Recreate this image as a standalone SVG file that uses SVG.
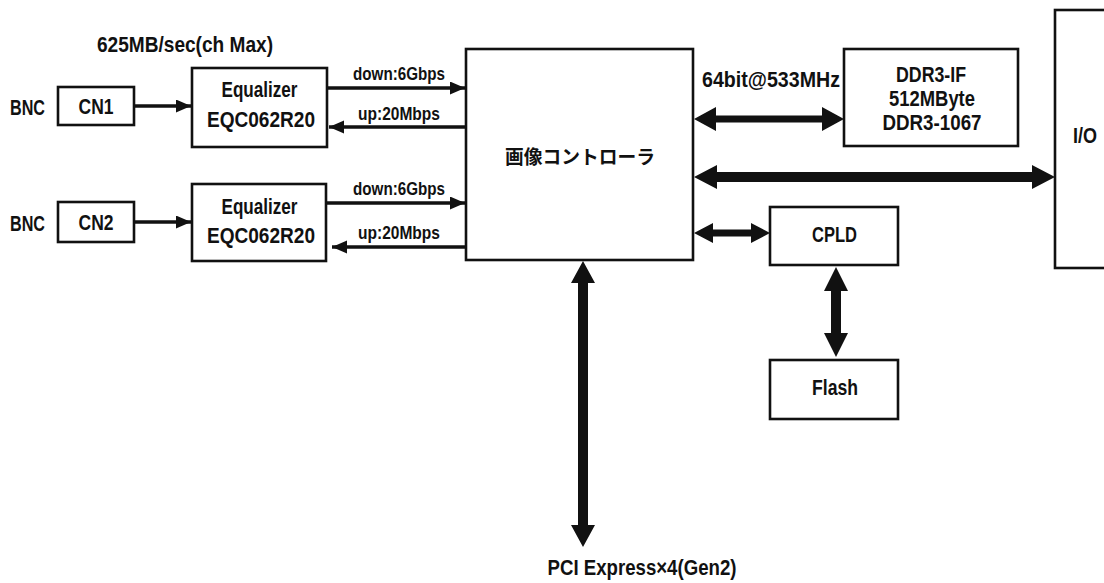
<svg xmlns="http://www.w3.org/2000/svg" width="1104" height="583" viewBox="0 0 1104 583">
<style>
.box{fill:#fff;stroke:#111;stroke-width:2.6}
.t{font-family:"Liberation Sans Narrow","Liberation Sans",Arial,sans-serif;font-weight:bold;fill:#111;text-anchor:middle}
.s19{font-size:22px}
.s16{font-size:18px}
.jp{font-family:"Liberation Sans","Noto Sans CJK JP",sans-serif;font-weight:bold;font-size:19px;fill:#111;text-anchor:middle}
.ln{stroke:#111;stroke-width:3.5;fill:none}
.fat{fill:#111;stroke:none}
</style>
<defs>
<marker id="ah" markerUnits="userSpaceOnUse" markerWidth="16" markerHeight="14" refX="15" refY="6.5" orient="auto">
<path d="M0,0 L15,6.5 L0,13 Z" fill="#111"/>
</marker>
</defs>
<rect width="1104" height="583" fill="#fff"/>
<text class="t s19" x="185" y="52" textLength="176" lengthAdjust="spacingAndGlyphs">625MB/sec(ch Max)</text>
<text class="t s19" x="27.5" y="115" textLength="35" lengthAdjust="spacingAndGlyphs">BNC</text>
<text class="t s19" x="27.5" y="231" textLength="35" lengthAdjust="spacingAndGlyphs">BNC</text>
<text class="t s19" x="642" y="575" textLength="189" lengthAdjust="spacingAndGlyphs">PCI Express×4(Gen2)</text>
<g id="cn1"><rect class="box" x="58" y="87" width="76" height="38"/><text class="t s19" x="96" y="114" textLength="35" lengthAdjust="spacingAndGlyphs">CN1</text></g>
<g id="cn2"><rect class="box" x="58" y="202" width="76" height="40"/><text class="t s19" x="96" y="230" textLength="35" lengthAdjust="spacingAndGlyphs">CN2</text></g>
<g id="eq1"><rect class="box" x="192" y="68" width="135" height="79"/><text class="t s19" x="259.5" y="97" textLength="76" lengthAdjust="spacingAndGlyphs">Equalizer</text><text class="t s19" x="261" y="127" textLength="108" lengthAdjust="spacingAndGlyphs">EQC062R20</text></g>
<g id="eq2"><rect class="box" x="192" y="184" width="134" height="77"/><text class="t s19" x="259.5" y="214" textLength="76" lengthAdjust="spacingAndGlyphs">Equalizer</text><text class="t s19" x="261" y="243" textLength="108" lengthAdjust="spacingAndGlyphs">EQC062R20</text></g>
<g id="ctrl"><rect class="box" x="466" y="49" width="227" height="211"/><text class="jp" x="580" y="164" textLength="150" lengthAdjust="spacingAndGlyphs">画像コントローラ</text></g>
<g id="ddr3"><rect class="box" x="844" y="49" width="174" height="97"/><text class="t s19" x="931" y="82" textLength="70" lengthAdjust="spacingAndGlyphs">DDR3-IF</text><text class="t s19" x="932" y="106" textLength="86" lengthAdjust="spacingAndGlyphs">512MByte</text><text class="t s19" x="932" y="130" textLength="99" lengthAdjust="spacingAndGlyphs">DDR3-1067</text></g>
<g id="io"><rect class="box" x="1055" y="10" width="60" height="258"/><text class="t s19" x="1085" y="143" textLength="24" lengthAdjust="spacingAndGlyphs">I/O</text></g>
<g id="cpld"><rect class="box" x="770" y="207" width="128" height="58"/><text class="t s19" x="834.5" y="242" textLength="45" lengthAdjust="spacingAndGlyphs">CPLD</text></g>
<g id="flash"><rect class="box" x="770" y="360" width="128" height="59"/><text class="t s19" x="835" y="395" textLength="46" lengthAdjust="spacingAndGlyphs">Flash</text></g>
<g id="connectors">
<line class="ln" x1="135" y1="106" x2="191" y2="106" marker-end="url(#ah)"/>
<line class="ln" x1="135" y1="222" x2="191" y2="222" marker-end="url(#ah)"/>
<line class="ln" x1="328" y1="88" x2="465" y2="88" marker-end="url(#ah)"/>
<line class="ln" x1="465" y1="127" x2="329" y2="127" marker-end="url(#ah)"/>
<line class="ln" x1="327" y1="203" x2="465" y2="203" marker-end="url(#ah)"/>
<line class="ln" x1="465" y1="247" x2="332" y2="247" marker-end="url(#ah)"/>
<text class="t s16" x="399" y="80" textLength="92" lengthAdjust="spacingAndGlyphs">down:6Gbps</text>
<text class="t s16" x="399" y="120" textLength="82" lengthAdjust="spacingAndGlyphs">up:20Mbps</text>
<text class="t s16" x="399" y="195" textLength="92" lengthAdjust="spacingAndGlyphs">down:6Gbps</text>
<text class="t s16" x="399" y="239" textLength="82" lengthAdjust="spacingAndGlyphs">up:20Mbps</text>
<polygon class="fat" points="694,119 716,107 716,115.5 822,115.5 822,107 844,119 822,131 822,122.5 716,122.5 716,131"/>
<text class="t s19" x="771" y="87" textLength="138" lengthAdjust="spacingAndGlyphs">64bit@533MHz</text>
<polygon class="fat" points="694,177 717,165 717,172 1032,172 1032,165 1055,177 1032,189 1032,182 717,182 717,189"/>
<polygon class="fat" points="694,233 713,223 713,229.5 751,229.5 751,223 770,233 751,243 751,236.5 713,236.5 713,243"/>
<polygon class="fat" points="836,267 848,291 841,291 841,333 848,333 836,357 824,333 831,333 831,291 824,291"/>
<polygon class="fat" points="583,261 595,283 588,283 588,525 595,525 583,547 571,525 578,525 578,283 571,283"/>
</g>
</svg>
